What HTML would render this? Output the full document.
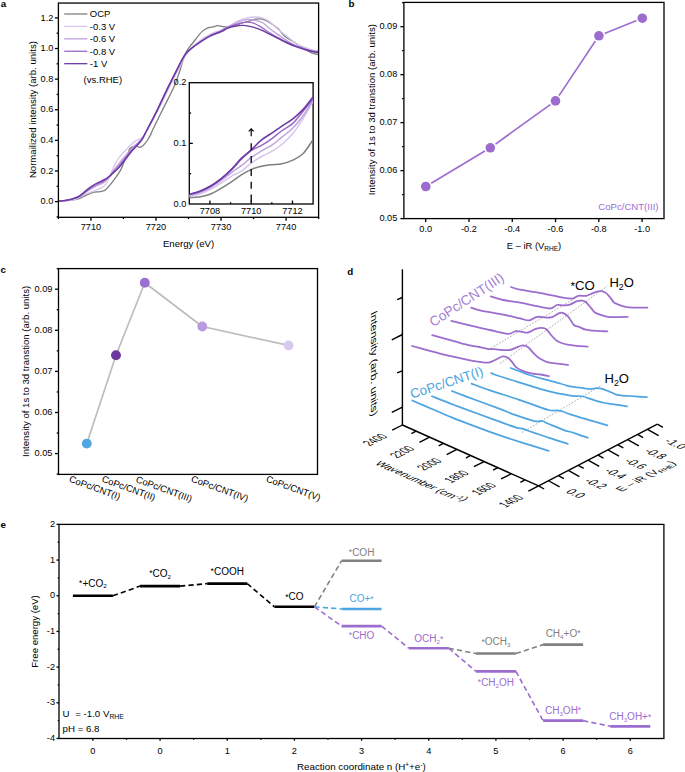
<!DOCTYPE html>
<html><head><meta charset="utf-8"><style>
html,body{margin:0;padding:0;background:#fff;}
svg{display:block;}
text{font-family:"Liberation Sans",sans-serif;}
</style></head><body>
<svg width="685" height="772" viewBox="0 0 685 772">
<defs>
<clipPath id="clipa"><rect x="58.4" y="3.05" width="260.2" height="214.25"/></clipPath>
<clipPath id="clipi"><rect x="189.3" y="82.7" width="123.8" height="121.3"/></clipPath>
</defs>
<rect width="685" height="772" fill="#fff"/>
<text x="0.8" y="7" font-size="9.8" text-anchor="start" fill="#000" font-weight="bold" >a</text>
<g clip-path="url(#clipa)">
<path d="M58.2,201 C59.63,200.93 63.62,200.9 66.8,200.6 C69.98,200.3 74.1,200.08 77.3,199.2 C80.5,198.32 83.38,196.43 86,195.3 C88.62,194.17 90.67,193.02 93,192.4 C95.33,191.78 97.95,192 100,191.6 C102.05,191.2 103.55,191.22 105.3,190 C107.05,188.78 108.75,186.42 110.5,184.3 C112.25,182.18 114.05,179.78 115.8,177.3 C117.55,174.82 119.55,172.17 121,169.4 C122.45,166.63 123.33,163.33 124.5,160.7 C125.67,158.07 127.12,155.62 128,153.6 C128.88,151.58 128.92,149.77 129.8,148.6 C130.68,147.43 132.13,147 133.3,146.6 C134.47,146.2 135.78,146.08 136.8,146.2 C137.82,146.32 138.38,147.37 139.4,147.3 C140.42,147.23 141.58,146.93 142.9,145.8 C144.22,144.67 145.98,142.4 147.3,140.5 C148.62,138.6 149.92,136.15 150.8,134.4 C151.68,132.65 150.65,134.08 152.6,130 C154.55,125.92 158.92,117.13 162.5,109.9 C166.08,102.67 171.18,93.2 174.1,86.6 C177.02,80 178.05,75.93 180,70.3 C181.95,64.67 183.28,57.85 185.8,52.8 C188.32,47.75 192.37,43.57 195.1,40 C197.83,36.43 200.25,33.35 202.2,31.4 C204.15,29.45 204.98,29.07 206.8,28.3 C208.62,27.53 211.28,27.23 213.1,26.8 C214.92,26.37 215.9,25.7 217.7,25.7 C219.5,25.7 222.3,26.6 223.9,26.8 C225.5,27 225.52,27.13 227.3,26.9 C229.08,26.67 232.17,26.02 234.6,25.4 C237.03,24.78 239.47,23.92 241.9,23.2 C244.33,22.48 247.02,21.77 249.2,21.1 C251.38,20.43 252.82,19.52 255,19.2 C257.18,18.88 259.87,18.65 262.3,19.2 C264.73,19.75 266.92,20.85 269.6,22.5 C272.28,24.15 275.97,26.9 278.4,29.1 C280.83,31.3 281.77,33.63 284.2,35.7 C286.63,37.77 290.07,39.57 293,41.5 C295.93,43.43 298.88,45.48 301.8,47.3 C304.72,49.12 307.72,51.18 310.5,52.4 C313.28,53.62 317.17,54.23 318.5,54.6" fill="none" stroke="#7f7f7f" stroke-width="1.3" stroke-linejoin="round" stroke-linecap="round" />
<path d="M58.2,201.2 C59.63,201.13 63.92,201.12 66.8,200.8 C69.68,200.48 72.78,200.18 75.5,199.3 C78.22,198.42 80.08,196.85 83.1,195.5 C86.12,194.15 90.23,192.65 93.6,191.2 C96.97,189.75 100.95,188.57 103.3,186.8 C105.65,185.03 106.38,182.93 107.7,180.6 C109.02,178.27 109.9,175.72 111.2,172.8 C112.5,169.88 113.9,166.02 115.5,163.1 C117.1,160.18 119.05,157.48 120.8,155.3 C122.55,153.12 124.5,151.58 126,150 C127.5,148.42 128.3,147.23 129.8,145.8 C131.3,144.37 133.55,142.43 135,141.4 C136.45,140.37 137.33,140.25 138.5,139.6 C139.67,138.95 140.83,138.6 142,137.5 C143.17,136.4 144.3,134.83 145.5,133 C146.7,131.17 146.92,130.67 149.2,126.5 C151.48,122.33 155.6,115 159.2,108 C162.8,101 167.5,91.08 170.8,84.5 C174.1,77.92 176.37,73.58 179,68.5 C181.63,63.42 184.27,57.67 186.6,54 C188.93,50.33 190.52,48.92 193,46.5 C195.48,44.08 198.67,41.5 201.5,39.5 C204.33,37.5 207.58,35.83 210,34.5 C212.42,33.17 214.33,32.08 216,31.5 C217.67,30.92 217.87,31.88 220,31 C222.13,30.12 225.88,27.85 228.8,26.2 C231.72,24.55 234.58,22.45 237.5,21.1 C240.42,19.75 243.38,18.78 246.3,18.1 C249.22,17.42 252.33,17.05 255,17 C257.67,16.95 259.87,17 262.3,17.8 C264.73,18.6 266.92,19.8 269.6,21.8 C272.28,23.8 275.47,27.37 278.4,29.8 C281.33,32.23 284.28,34.08 287.2,36.4 C290.12,38.72 292.98,41.88 295.9,43.7 C298.82,45.52 301.78,46.2 304.7,47.3 C307.62,48.4 311.1,49.68 313.4,50.3 C315.7,50.92 317.65,50.88 318.5,51" fill="none" stroke="#d6c6ea" stroke-width="1.3" stroke-linejoin="round" stroke-linecap="round" />
<path d="M58.2,201.08 C59.17,201.02 62.03,200.95 64,200.73 C65.97,200.52 67.53,200.44 70,199.8 C72.47,199.16 75.88,198.35 78.8,196.9 C81.72,195.45 85.03,192.69 87.5,191.12 C89.97,189.55 91.77,188.49 93.6,187.48 C95.43,186.47 96.88,185.8 98.5,185.03 C100.12,184.26 101.48,184.26 103.3,182.84 C105.12,181.42 107.7,178.54 109.4,176.5 C111.1,174.47 112.18,172.4 113.5,170.6 C114.82,168.81 115.97,167.44 117.3,165.76 C118.63,164.08 120.03,162.31 121.5,160.53 C122.97,158.76 124.43,157.1 126.1,155.12 C127.77,153.13 129.72,150.55 131.5,148.64 C133.28,146.74 135.05,145.32 136.8,143.67 C138.55,142.02 140.35,140.93 142,138.76 C143.65,136.59 144.25,135.17 146.7,130.66 C149.15,126.15 153.1,118.86 156.7,111.71 C160.3,104.56 165,94.48 168.3,87.79 C171.6,81.09 173.78,76.8 176.5,71.53 C179.22,66.26 182.08,60.08 184.6,56.19 C187.12,52.29 188.88,50.7 191.6,48.18 C194.32,45.65 197.83,43.14 200.9,41.02 C203.97,38.9 206.82,37.08 210,35.46 C213.18,33.84 216.87,32.78 220,31.3 C223.13,29.82 225.88,28.07 228.8,26.6 C231.72,25.13 234.58,23.67 237.5,22.5 C240.42,21.33 243.38,19.97 246.3,19.6 C249.22,19.23 252.33,19.82 255,20.3 C257.67,20.78 259.87,21.15 262.3,22.5 C264.73,23.85 266.92,26.33 269.6,28.4 C272.28,30.47 275.47,32.83 278.4,34.9 C281.33,36.97 284.28,38.97 287.2,40.8 C290.12,42.63 292.98,44.57 295.9,45.9 C298.82,47.23 301.78,47.95 304.7,48.8 C307.62,49.65 311.1,50.52 313.4,51 C315.7,51.48 317.65,51.58 318.5,51.7" fill="none" stroke="#bea2dd" stroke-width="1.3" stroke-linejoin="round" stroke-linecap="round" />
<path d="M58.2,201.04 C59.17,200.97 62.03,200.89 64,200.66 C65.97,200.43 67.53,200.31 70,199.63 C72.47,198.96 75.88,198.2 78.8,196.62 C81.72,195.05 85.03,191.93 87.5,190.17 C89.97,188.42 91.77,187.21 93.6,186.12 C95.43,185.02 96.88,184.37 98.5,183.58 C100.12,182.8 101.48,182.59 103.3,181.39 C105.12,180.19 107.7,178.01 109.4,176.39 C111.1,174.78 112.18,173.15 113.5,171.7 C114.82,170.25 115.97,169.2 117.3,167.71 C118.63,166.21 120.03,164.49 121.5,162.72 C122.97,160.94 124.43,159.12 126.1,157.03 C127.77,154.95 129.72,152.25 131.5,150.22 C133.28,148.18 135.05,146.67 136.8,144.84 C138.55,143.01 140.35,141.6 142,139.22 C143.65,136.84 144.25,135.21 146.7,130.57 C149.15,125.93 153.1,118.61 156.7,111.37 C160.3,104.14 165,93.89 168.3,87.13 C171.6,80.38 173.78,76.11 176.5,70.85 C179.22,65.6 182.08,59.37 184.6,55.59 C187.12,51.81 188.88,50.56 191.6,48.19 C194.32,45.82 197.83,43.46 200.9,41.39 C203.97,39.33 206.82,37.49 210,35.81 C213.18,34.13 216.87,32.79 220,31.3 C223.13,29.81 225.88,28.12 228.8,26.9 C231.72,25.68 234.58,24.78 237.5,24 C240.42,23.22 243.62,22.33 246.3,22.2 C248.98,22.07 251.17,22.42 253.6,23.2 C256.03,23.98 258.23,25.32 260.9,26.9 C263.57,28.48 266.68,30.88 269.6,32.7 C272.52,34.52 275.47,36.22 278.4,37.8 C281.33,39.38 284.28,40.85 287.2,42.2 C290.12,43.55 292.98,44.8 295.9,45.9 C298.82,47 301.78,47.88 304.7,48.8 C307.62,49.72 311.1,50.87 313.4,51.4 C315.7,51.93 317.65,51.9 318.5,52" fill="none" stroke="#9a68c9" stroke-width="1.3" stroke-linejoin="round" stroke-linecap="round" />
<path d="M58.2,201 C59.17,200.93 62.03,200.85 64,200.6 C65.97,200.35 67.53,200.2 70,199.5 C72.47,198.8 75.88,198.08 78.8,196.4 C81.72,194.72 85.03,191.3 87.5,189.4 C89.97,187.5 91.77,186.17 93.6,185 C95.43,183.83 96.88,183.2 98.5,182.4 C100.12,181.6 101.48,181.22 103.3,180.2 C105.12,179.18 107.7,177.57 109.4,176.3 C111.1,175.03 112.18,173.77 113.5,172.6 C114.82,171.43 115.97,170.65 117.3,169.3 C118.63,167.95 120.03,166.28 121.5,164.5 C122.97,162.72 124.43,160.77 126.1,158.6 C127.77,156.43 129.72,153.63 131.5,151.5 C133.28,149.37 135.05,147.78 136.8,145.8 C138.55,143.82 140.35,142.15 142,139.6 C143.65,137.05 144.25,135.25 146.7,130.5 C149.15,125.75 153.1,118.42 156.7,111.1 C160.3,103.78 165,93.4 168.3,86.6 C171.6,79.8 173.78,75.55 176.5,70.3 C179.22,65.05 182.08,58.78 184.6,55.1 C187.12,51.42 188.88,50.43 191.6,48.2 C194.32,45.97 197.83,43.72 200.9,41.7 C203.97,39.68 207.2,37.55 210,36.1 C212.8,34.65 215.63,33.82 217.7,33 C219.77,32.18 220.8,31.97 222.4,31.2 C224,30.43 225.27,29.23 227.3,28.4 C229.33,27.57 231.92,26.7 234.6,26.2 C237.28,25.7 240.48,25.28 243.4,25.4 C246.32,25.52 249.18,26.17 252.1,26.9 C255.02,27.63 257.98,28.58 260.9,29.8 C263.82,31.02 266.68,32.73 269.6,34.2 C272.52,35.67 275.47,37.13 278.4,38.6 C281.33,40.07 284.28,41.67 287.2,43 C290.12,44.33 292.98,45.52 295.9,46.6 C298.82,47.68 301.78,48.65 304.7,49.5 C307.62,50.35 311.1,51.22 313.4,51.7 C315.7,52.18 317.65,52.28 318.5,52.4" fill="none" stroke="#6b3aa5" stroke-width="1.45" stroke-linejoin="round" stroke-linecap="round" />
</g>
<rect x="58.4" y="3.05" width="260.2" height="214.25" fill="none" stroke="#000" stroke-width="1.3"/>
<line x1="58.4" y1="216.91" x2="56.6" y2="216.91" stroke="#000" stroke-width="1.3" />
<line x1="58.4" y1="201.6" x2="54.9" y2="201.6" stroke="#000" stroke-width="1.3" />
<text x="53.3" y="204.2" font-size="9.2" text-anchor="end" fill="#000" >0.0</text>
<line x1="58.4" y1="186.29" x2="56.6" y2="186.29" stroke="#000" stroke-width="1.3" />
<line x1="58.4" y1="170.98" x2="54.9" y2="170.98" stroke="#000" stroke-width="1.3" />
<text x="53.3" y="173.58" font-size="9.2" text-anchor="end" fill="#000" >0.2</text>
<line x1="58.4" y1="155.67" x2="56.6" y2="155.67" stroke="#000" stroke-width="1.3" />
<line x1="58.4" y1="140.37" x2="54.9" y2="140.37" stroke="#000" stroke-width="1.3" />
<text x="53.3" y="142.97" font-size="9.2" text-anchor="end" fill="#000" >0.4</text>
<line x1="58.4" y1="125.06" x2="56.6" y2="125.06" stroke="#000" stroke-width="1.3" />
<line x1="58.4" y1="109.75" x2="54.9" y2="109.75" stroke="#000" stroke-width="1.3" />
<text x="53.3" y="112.35" font-size="9.2" text-anchor="end" fill="#000" >0.6</text>
<line x1="58.4" y1="94.44" x2="56.6" y2="94.44" stroke="#000" stroke-width="1.3" />
<line x1="58.4" y1="79.13" x2="54.9" y2="79.13" stroke="#000" stroke-width="1.3" />
<text x="53.3" y="81.73" font-size="9.2" text-anchor="end" fill="#000" >0.8</text>
<line x1="58.4" y1="63.82" x2="56.6" y2="63.82" stroke="#000" stroke-width="1.3" />
<line x1="58.4" y1="48.52" x2="54.9" y2="48.52" stroke="#000" stroke-width="1.3" />
<text x="53.3" y="51.12" font-size="9.2" text-anchor="end" fill="#000" >1.0</text>
<line x1="58.4" y1="33.21" x2="56.6" y2="33.21" stroke="#000" stroke-width="1.3" />
<line x1="58.4" y1="17.9" x2="54.9" y2="17.9" stroke="#000" stroke-width="1.3" />
<text x="53.3" y="20.5" font-size="9.2" text-anchor="end" fill="#000" >1.2</text>
<line x1="58.4" y1="217.3" x2="58.4" y2="219.1" stroke="#000" stroke-width="1.3" />
<line x1="90.93" y1="217.3" x2="90.93" y2="220.8" stroke="#000" stroke-width="1.3" />
<text x="90.93" y="229.9" font-size="9.2" text-anchor="middle" fill="#000" >7710</text>
<line x1="123.45" y1="217.3" x2="123.45" y2="219.1" stroke="#000" stroke-width="1.3" />
<line x1="155.98" y1="217.3" x2="155.98" y2="220.8" stroke="#000" stroke-width="1.3" />
<text x="155.98" y="229.9" font-size="9.2" text-anchor="middle" fill="#000" >7720</text>
<line x1="188.5" y1="217.3" x2="188.5" y2="219.1" stroke="#000" stroke-width="1.3" />
<line x1="221.03" y1="217.3" x2="221.03" y2="220.8" stroke="#000" stroke-width="1.3" />
<text x="221.03" y="229.9" font-size="9.2" text-anchor="middle" fill="#000" >7730</text>
<line x1="253.55" y1="217.3" x2="253.55" y2="219.1" stroke="#000" stroke-width="1.3" />
<line x1="286.08" y1="217.3" x2="286.08" y2="220.8" stroke="#000" stroke-width="1.3" />
<text x="286.08" y="229.9" font-size="9.2" text-anchor="middle" fill="#000" >7740</text>
<line x1="318.6" y1="217.3" x2="318.6" y2="219.1" stroke="#000" stroke-width="1.3" />
<text x="188.5" y="246.6" font-size="9.6" text-anchor="middle" fill="#000" >Energy (eV)</text>
<text x="0" y="0" font-size="9.6" text-anchor="middle" fill="#000" transform="translate(35.5,109.6) rotate(-90)" >Normailized intensity (arb. units)</text>
<line x1="64.2" y1="14" x2="87.3" y2="14" stroke="#7f7f7f" stroke-width="1.3" />
<text x="89.8" y="17.4" font-size="9.5" text-anchor="start" fill="#000" >OCP</text>
<line x1="64.2" y1="26.42" x2="87.3" y2="26.42" stroke="#d6c6ea" stroke-width="1.3" />
<text x="89.8" y="29.82" font-size="9.5" text-anchor="start" fill="#000" >-0.3 V</text>
<line x1="64.2" y1="38.84" x2="87.3" y2="38.84" stroke="#bea2dd" stroke-width="1.3" />
<text x="89.8" y="42.24" font-size="9.5" text-anchor="start" fill="#000" >-0.6 V</text>
<line x1="64.2" y1="51.26" x2="87.3" y2="51.26" stroke="#9a68c9" stroke-width="1.3" />
<text x="89.8" y="54.66" font-size="9.5" text-anchor="start" fill="#000" >-0.8 V</text>
<line x1="64.2" y1="63.68" x2="87.3" y2="63.68" stroke="#6b3aa5" stroke-width="1.3" />
<text x="89.8" y="67.08" font-size="9.5" text-anchor="start" fill="#000" >-1 V</text>
<text x="83.6" y="83" font-size="9.5" text-anchor="start" fill="#000" >(vs.RHE)</text>
<rect x="189.3" y="82.7" width="123.8" height="121.3" fill="#fff" stroke="#000" stroke-width="1.3"/>
<g clip-path="url(#clipi)">
<path d="M189.47,197.5 C191.07,197.41 195.6,197.5 199.04,196.95 C202.47,196.4 206.39,195.63 210.07,194.19 C213.75,192.75 217.43,190.45 221.11,188.31 C224.78,186.16 228.77,183.56 232.14,181.32 C235.51,179.08 238.12,176.87 241.34,174.88 C244.56,172.89 248.08,170.81 251.45,169.36 C254.83,167.92 258.35,167 261.57,166.24 C264.79,165.47 267.39,165.16 270.77,164.77 C274.14,164.37 278.12,164.61 281.8,163.85 C285.48,163.08 289.31,161.85 292.84,160.17 C296.36,158.48 299.67,157.01 302.95,153.73 C306.23,150.45 310.92,142.7 312.52,140.49" fill="none" stroke="#7f7f7f" stroke-width="1.5" stroke-linejoin="round" stroke-linecap="round" />
<path d="M189.47,196.03 C191.07,195.73 195.6,195.27 199.04,194.19 C202.47,193.12 206.39,191.44 210.07,189.6 C213.75,187.76 217.43,185.46 221.11,183.16 C224.78,180.86 228.77,177.79 232.14,175.8 C235.51,173.81 238.12,173.35 241.34,171.2 C244.56,169.06 248.08,165.38 251.45,162.93 C254.83,160.47 258.04,158.48 261.57,156.49 C265.1,154.5 269.23,152.96 272.61,150.97 C275.98,148.98 278.43,147.45 281.8,144.53 C285.17,141.62 289.31,137.79 292.84,133.5 C296.36,129.21 299.67,124 302.95,118.78 C306.23,113.57 310.92,104.99 312.52,102.23" fill="none" stroke="#d6c6ea" stroke-width="1.5" stroke-linejoin="round" stroke-linecap="round" />
<path d="M189.47,195.11 C191.07,194.75 195.6,194.13 199.04,192.91 C202.47,191.68 206.39,189.84 210.07,187.76 C213.75,185.67 217.43,183.01 221.11,180.4 C224.78,177.79 228.77,174.58 232.14,172.12 C235.51,169.67 238.12,168.14 241.34,165.69 C244.56,163.23 248.08,159.86 251.45,157.41 C254.83,154.96 258.04,153.12 261.57,150.97 C265.1,148.83 269.23,146.83 272.61,144.53 C275.98,142.24 278.43,139.94 281.8,137.18 C285.17,134.42 289.31,131.51 292.84,127.98 C296.36,124.46 299.67,120.62 302.95,116.03 C306.23,111.43 310.92,103 312.52,100.39" fill="none" stroke="#bea2dd" stroke-width="1.5" stroke-linejoin="round" stroke-linecap="round" />
<path d="M189.47,194.56 C191.07,194.13 195.6,193.27 199.04,191.99 C202.47,190.7 206.39,188.98 210.07,186.84 C213.75,184.69 217.43,182.02 221.11,179.11 C224.78,176.2 228.77,172.68 232.14,169.36 C235.51,166.05 238.12,162.41 241.34,159.25 C244.56,156.09 248.08,152.72 251.45,150.42 C254.83,148.12 258.04,147.51 261.57,145.45 C265.1,143.4 269.23,140.55 272.61,138.1 C275.98,135.64 278.43,133.19 281.8,130.74 C285.17,128.29 289.31,126.6 292.84,123.38 C296.36,120.16 299.67,115.41 302.95,111.43 C306.23,107.44 310.92,101.47 312.52,99.47" fill="none" stroke="#9a68c9" stroke-width="1.5" stroke-linejoin="round" stroke-linecap="round" />
<path d="M189.47,194.19 C191.07,193.73 195.6,192.75 199.04,191.44 C202.47,190.12 206.39,188.43 210.07,186.29 C213.75,184.14 217.43,181.53 221.11,178.56 C224.78,175.59 228.77,171.82 232.14,168.44 C235.51,165.07 238.12,161.46 241.34,158.33 C244.56,155.2 248.08,152.75 251.45,149.68 C254.83,146.62 258.04,142.79 261.57,139.94 C265.1,137.09 269.23,134.88 272.61,132.58 C275.98,130.28 278.43,128.44 281.8,126.14 C285.17,123.84 289.31,121.54 292.84,118.78 C296.36,116.03 299.67,113.11 302.95,109.59 C306.23,106.06 310.92,99.63 312.52,97.63" fill="none" stroke="#6b3aa5" stroke-width="1.6" stroke-linejoin="round" stroke-linecap="round" />
</g>
<text x="186.3" y="206.6" font-size="9.2" text-anchor="end" fill="#000" >0.0</text>
<line x1="189.3" y1="173.68" x2="191.1" y2="173.68" stroke="#000" stroke-width="1.3" />
<line x1="189.3" y1="143.35" x2="192.8" y2="143.35" stroke="#000" stroke-width="1.3" />
<text x="186.3" y="145.95" font-size="9.2" text-anchor="end" fill="#000" >0.1</text>
<line x1="189.3" y1="113.02" x2="191.1" y2="113.02" stroke="#000" stroke-width="1.3" />
<text x="186.3" y="85.3" font-size="9.2" text-anchor="end" fill="#000" >0.2</text>
<line x1="209.93" y1="204" x2="209.93" y2="200.5" stroke="#000" stroke-width="1.3" />
<text x="209.93" y="214.3" font-size="9.2" text-anchor="middle" fill="#000" >7708</text>
<line x1="230.57" y1="204" x2="230.57" y2="202.2" stroke="#000" stroke-width="1.3" />
<line x1="251.2" y1="204" x2="251.2" y2="200.5" stroke="#000" stroke-width="1.3" />
<text x="251.2" y="214.3" font-size="9.2" text-anchor="middle" fill="#000" >7710</text>
<line x1="271.83" y1="204" x2="271.83" y2="202.2" stroke="#000" stroke-width="1.3" />
<line x1="292.47" y1="204" x2="292.47" y2="200.5" stroke="#000" stroke-width="1.3" />
<text x="292.47" y="214.3" font-size="9.2" text-anchor="middle" fill="#000" >7712</text>
<line x1="251.2" y1="143.3" x2="251.2" y2="203.5" stroke="#000" stroke-width="1.3" stroke-dasharray="7,5.8"/>
<path d="M248.8,131.4 L251.2,128.8 L253.6,131.4" fill="none" stroke="#000" stroke-width="1.2"/>
<line x1="251.2" y1="129.2" x2="251.2" y2="136.3" stroke="#000" stroke-width="1.2" />
<text x="348.6" y="6.8" font-size="9.8" text-anchor="start" fill="#000" font-weight="bold" >b</text>
<rect x="403.9" y="2.4" width="260.1" height="216.2" fill="none" stroke="#000" stroke-width="1.3"/>
<line x1="403.9" y1="218.6" x2="400.4" y2="218.6" stroke="#000" stroke-width="1.3" />
<text x="397.3" y="221.1" font-size="9.2" text-anchor="end" fill="#000" >0.05</text>
<line x1="403.9" y1="194.61" x2="402.1" y2="194.61" stroke="#000" stroke-width="1.3" />
<line x1="403.9" y1="170.62" x2="400.4" y2="170.62" stroke="#000" stroke-width="1.3" />
<text x="397.3" y="173.12" font-size="9.2" text-anchor="end" fill="#000" >0.06</text>
<line x1="403.9" y1="146.63" x2="402.1" y2="146.63" stroke="#000" stroke-width="1.3" />
<line x1="403.9" y1="122.64" x2="400.4" y2="122.64" stroke="#000" stroke-width="1.3" />
<text x="397.3" y="125.14" font-size="9.2" text-anchor="end" fill="#000" >0.07</text>
<line x1="403.9" y1="98.65" x2="402.1" y2="98.65" stroke="#000" stroke-width="1.3" />
<line x1="403.9" y1="74.66" x2="400.4" y2="74.66" stroke="#000" stroke-width="1.3" />
<text x="397.3" y="77.16" font-size="9.2" text-anchor="end" fill="#000" >0.08</text>
<line x1="403.9" y1="50.67" x2="402.1" y2="50.67" stroke="#000" stroke-width="1.3" />
<line x1="403.9" y1="26.68" x2="400.4" y2="26.68" stroke="#000" stroke-width="1.3" />
<text x="397.3" y="29.18" font-size="9.2" text-anchor="end" fill="#000" >0.09</text>
<line x1="403.9" y1="2.69" x2="402.1" y2="2.69" stroke="#000" stroke-width="1.3" />
<line x1="425.7" y1="218.6" x2="425.7" y2="222.1" stroke="#000" stroke-width="1.3" />
<text x="425.7" y="232.2" font-size="9.2" text-anchor="middle" fill="#000" >0.0</text>
<line x1="468.98" y1="218.6" x2="468.98" y2="222.1" stroke="#000" stroke-width="1.3" />
<text x="468.98" y="232.2" font-size="9.2" text-anchor="middle" fill="#000" >-0.2</text>
<line x1="512.26" y1="218.6" x2="512.26" y2="222.1" stroke="#000" stroke-width="1.3" />
<text x="512.26" y="232.2" font-size="9.2" text-anchor="middle" fill="#000" >-0.4</text>
<line x1="555.54" y1="218.6" x2="555.54" y2="222.1" stroke="#000" stroke-width="1.3" />
<text x="555.54" y="232.2" font-size="9.2" text-anchor="middle" fill="#000" >-0.6</text>
<line x1="598.82" y1="218.6" x2="598.82" y2="222.1" stroke="#000" stroke-width="1.3" />
<text x="598.82" y="232.2" font-size="9.2" text-anchor="middle" fill="#000" >-0.8</text>
<line x1="642.1" y1="218.6" x2="642.1" y2="222.1" stroke="#000" stroke-width="1.3" />
<text x="642.1" y="232.2" font-size="9.2" text-anchor="middle" fill="#000" >-1.0</text>
<path d="M425.8,186.5 L490.3,147.8 L555.5,100.9 L598.9,35.8 L642.3,18.2" fill="none" stroke="#9c6dcf" stroke-width="1.65" stroke-linejoin="round" stroke-linecap="round" />
<circle cx="425.8" cy="186.5" r="6.4" fill="#fff"/>
<circle cx="425.8" cy="186.5" r="4.8" fill="#9c6dcf"/>
<circle cx="490.3" cy="147.8" r="6.4" fill="#fff"/>
<circle cx="490.3" cy="147.8" r="4.8" fill="#9c6dcf"/>
<circle cx="555.5" cy="100.9" r="6.4" fill="#fff"/>
<circle cx="555.5" cy="100.9" r="4.8" fill="#9c6dcf"/>
<circle cx="598.9" cy="35.8" r="6.4" fill="#fff"/>
<circle cx="598.9" cy="35.8" r="4.8" fill="#9c6dcf"/>
<circle cx="642.3" cy="18.2" r="6.4" fill="#fff"/>
<circle cx="642.3" cy="18.2" r="4.8" fill="#9c6dcf"/>
<text x="658.5" y="209.9" font-size="9.6" text-anchor="end" fill="#9c6dcf" >CoPc/CNT(III)</text>
<text x="534" y="249" font-size="9.4" text-anchor="middle" fill="#000" >E – iR (V<tspan font-size="6.5" dy="1.8">RHE</tspan><tspan dy="-1.8">)</tspan></text>
<text x="0" y="0" font-size="9.6" text-anchor="middle" fill="#000" transform="translate(374.5,109.7) rotate(-90)" >Intensity of 1s to 3d transtion (arb. units)</text>
<text x="0.5" y="272.5" font-size="9.8" text-anchor="start" fill="#000" font-weight="bold" >c</text>
<rect x="58.5" y="268.6" width="259" height="205.8" fill="none" stroke="#000" stroke-width="1.3"/>
<line x1="58.5" y1="474.15" x2="56.7" y2="474.15" stroke="#000" stroke-width="1.3" />
<line x1="58.5" y1="453.6" x2="55" y2="453.6" stroke="#000" stroke-width="1.3" />
<text x="52.4" y="456.1" font-size="9.2" text-anchor="end" fill="#000" >0.05</text>
<line x1="58.5" y1="433.05" x2="56.7" y2="433.05" stroke="#000" stroke-width="1.3" />
<line x1="58.5" y1="412.5" x2="55" y2="412.5" stroke="#000" stroke-width="1.3" />
<text x="52.4" y="415" font-size="9.2" text-anchor="end" fill="#000" >0.06</text>
<line x1="58.5" y1="391.95" x2="56.7" y2="391.95" stroke="#000" stroke-width="1.3" />
<line x1="58.5" y1="371.4" x2="55" y2="371.4" stroke="#000" stroke-width="1.3" />
<text x="52.4" y="373.9" font-size="9.2" text-anchor="end" fill="#000" >0.07</text>
<line x1="58.5" y1="350.85" x2="56.7" y2="350.85" stroke="#000" stroke-width="1.3" />
<line x1="58.5" y1="330.3" x2="55" y2="330.3" stroke="#000" stroke-width="1.3" />
<text x="52.4" y="332.8" font-size="9.2" text-anchor="end" fill="#000" >0.08</text>
<line x1="58.5" y1="309.75" x2="56.7" y2="309.75" stroke="#000" stroke-width="1.3" />
<line x1="58.5" y1="289.2" x2="55" y2="289.2" stroke="#000" stroke-width="1.3" />
<text x="52.4" y="291.7" font-size="9.2" text-anchor="end" fill="#000" >0.09</text>
<line x1="58.5" y1="268.65" x2="56.7" y2="268.65" stroke="#000" stroke-width="1.3" />
<path d="M86.8,443.6 L116,355.3 L144.8,282.7 L202.3,326.5 L288.6,345.4" fill="none" stroke="#bdbdbd" stroke-width="1.7" stroke-linejoin="round" stroke-linecap="round" />
<circle cx="86.8" cy="443.6" r="4.95" fill="#52a7e2"/>
<circle cx="116" cy="355.3" r="4.95" fill="#6a3a9e"/>
<circle cx="144.8" cy="282.7" r="4.95" fill="#9d6fd2"/>
<circle cx="202.3" cy="326.5" r="4.95" fill="#bb9be0"/>
<circle cx="288.6" cy="345.4" r="4.95" fill="#d9c9ee"/>
<text x="0" y="0" font-size="9.4" text-anchor="start" fill="#000" transform="translate(68.5,481.6) rotate(20)" >CoPc/CNT(I)</text>
<text x="0" y="0" font-size="9.4" text-anchor="start" fill="#000" transform="translate(101.2,481.6) rotate(20)" >CoPc/CNT(II)</text>
<text x="0" y="0" font-size="9.4" text-anchor="start" fill="#000" transform="translate(135.3,482) rotate(20)" >CoPc/CNT(III)</text>
<text x="0" y="0" font-size="9.4" text-anchor="start" fill="#000" transform="translate(190.6,481.4) rotate(20)" >CoPc/CNT(IV)</text>
<text x="0" y="0" font-size="9.4" text-anchor="start" fill="#000" transform="translate(265.4,481.4) rotate(20)" >CoPc/CNT(V)</text>
<text x="0" y="0" font-size="9.6" text-anchor="middle" fill="#000" transform="translate(28.7,371.4) rotate(-90)" >Intensity of 1s to 3d transtion (arb. units)</text>
<text x="0.5" y="527.5" font-size="9.8" text-anchor="start" fill="#000" font-weight="bold" >e</text>
<rect x="59" y="524.4" width="604.9" height="214.1" fill="none" stroke="#000" stroke-width="1.3"/>
<line x1="59" y1="738.47" x2="56.5" y2="738.47" stroke="#000" stroke-width="1.3" />
<text x="55" y="741.07" font-size="9.2" text-anchor="end" fill="#000" >-4</text>
<line x1="59" y1="720.63" x2="57.7" y2="720.63" stroke="#000" stroke-width="1.3" />
<line x1="59" y1="702.79" x2="56.5" y2="702.79" stroke="#000" stroke-width="1.3" />
<text x="55" y="705.39" font-size="9.2" text-anchor="end" fill="#000" >-3</text>
<line x1="59" y1="684.95" x2="57.7" y2="684.95" stroke="#000" stroke-width="1.3" />
<line x1="59" y1="667.11" x2="56.5" y2="667.11" stroke="#000" stroke-width="1.3" />
<text x="55" y="669.71" font-size="9.2" text-anchor="end" fill="#000" >-2</text>
<line x1="59" y1="649.27" x2="57.7" y2="649.27" stroke="#000" stroke-width="1.3" />
<line x1="59" y1="631.43" x2="56.5" y2="631.43" stroke="#000" stroke-width="1.3" />
<text x="55" y="634.03" font-size="9.2" text-anchor="end" fill="#000" >-1</text>
<line x1="59" y1="613.59" x2="57.7" y2="613.59" stroke="#000" stroke-width="1.3" />
<line x1="59" y1="595.75" x2="56.5" y2="595.75" stroke="#000" stroke-width="1.3" />
<text x="55" y="598.35" font-size="9.2" text-anchor="end" fill="#000" >0</text>
<line x1="59" y1="577.91" x2="57.7" y2="577.91" stroke="#000" stroke-width="1.3" />
<line x1="59" y1="560.07" x2="56.5" y2="560.07" stroke="#000" stroke-width="1.3" />
<text x="55" y="562.67" font-size="9.2" text-anchor="end" fill="#000" >1</text>
<line x1="59" y1="542.23" x2="57.7" y2="542.23" stroke="#000" stroke-width="1.3" />
<line x1="59" y1="524.39" x2="56.5" y2="524.39" stroke="#000" stroke-width="1.3" />
<text x="55" y="526.99" font-size="9.2" text-anchor="end" fill="#000" >2</text>
<line x1="92.9" y1="738.5" x2="92.9" y2="740.7" stroke="#000" stroke-width="1.3" />
<text x="92.9" y="753.9" font-size="9.2" text-anchor="middle" fill="#000" >0</text>
<line x1="126.49" y1="738.5" x2="126.49" y2="739.8" stroke="#000" stroke-width="1.3" />
<line x1="160.07" y1="738.5" x2="160.07" y2="740.7" stroke="#000" stroke-width="1.3" />
<text x="160.07" y="753.9" font-size="9.2" text-anchor="middle" fill="#000" >0</text>
<line x1="193.66" y1="738.5" x2="193.66" y2="739.8" stroke="#000" stroke-width="1.3" />
<line x1="227.24" y1="738.5" x2="227.24" y2="740.7" stroke="#000" stroke-width="1.3" />
<text x="227.24" y="753.9" font-size="9.2" text-anchor="middle" fill="#000" >1</text>
<line x1="260.82" y1="738.5" x2="260.82" y2="739.8" stroke="#000" stroke-width="1.3" />
<line x1="294.41" y1="738.5" x2="294.41" y2="740.7" stroke="#000" stroke-width="1.3" />
<text x="294.41" y="753.9" font-size="9.2" text-anchor="middle" fill="#000" >2</text>
<line x1="327.99" y1="738.5" x2="327.99" y2="739.8" stroke="#000" stroke-width="1.3" />
<line x1="361.58" y1="738.5" x2="361.58" y2="740.7" stroke="#000" stroke-width="1.3" />
<text x="361.58" y="753.9" font-size="9.2" text-anchor="middle" fill="#000" >3</text>
<line x1="395.17" y1="738.5" x2="395.17" y2="739.8" stroke="#000" stroke-width="1.3" />
<line x1="428.75" y1="738.5" x2="428.75" y2="740.7" stroke="#000" stroke-width="1.3" />
<text x="428.75" y="753.9" font-size="9.2" text-anchor="middle" fill="#000" >4</text>
<line x1="462.33" y1="738.5" x2="462.33" y2="739.8" stroke="#000" stroke-width="1.3" />
<line x1="495.92" y1="738.5" x2="495.92" y2="740.7" stroke="#000" stroke-width="1.3" />
<text x="495.92" y="753.9" font-size="9.2" text-anchor="middle" fill="#000" >5</text>
<line x1="529.5" y1="738.5" x2="529.5" y2="739.8" stroke="#000" stroke-width="1.3" />
<line x1="563.09" y1="738.5" x2="563.09" y2="740.7" stroke="#000" stroke-width="1.3" />
<text x="563.09" y="753.9" font-size="9.2" text-anchor="middle" fill="#000" >6</text>
<line x1="596.68" y1="738.5" x2="596.68" y2="739.8" stroke="#000" stroke-width="1.3" />
<line x1="630.26" y1="738.5" x2="630.26" y2="740.7" stroke="#000" stroke-width="1.3" />
<text x="630.26" y="753.9" font-size="9.2" text-anchor="middle" fill="#000" >6</text>
<text x="361.3" y="770.4" font-size="9.8" text-anchor="middle" fill="#000" >Reaction coordinate n (H<tspan font-size="6.4" dy="-3.4">+</tspan><tspan dy="3.4">+e</tspan><tspan font-size="6.4" dy="-3.4">-</tspan><tspan dy="3.4">)</tspan></text>
<text x="0" y="0" font-size="9.6" text-anchor="middle" fill="#000" transform="translate(37.6,631.5) rotate(-90)" >Free energy (eV)</text>
<text x="62.6" y="717.3" font-size="9.7" text-anchor="start" fill="#000" >U<tspan dx="5.6">= -1.0 V</tspan><tspan font-size="6.8" dy="1.8">RHE</tspan></text>
<text x="62.6" y="731.6" font-size="9.7" text-anchor="start" fill="#000" >pH = 6.8</text>
<line x1="72.9" y1="595.75" x2="112.9" y2="595.75" stroke="#000" stroke-width="2.6" />
<line x1="140.07" y1="586.12" x2="180.07" y2="586.12" stroke="#000" stroke-width="2.6" />
<line x1="207.24" y1="583.62" x2="247.24" y2="583.62" stroke="#000" stroke-width="2.6" />
<line x1="274.41" y1="606.81" x2="314.41" y2="606.81" stroke="#000" stroke-width="2.6" />
<line x1="112.9" y1="595.75" x2="140.07" y2="586.12" stroke="#000" stroke-width="1.6" stroke-dasharray="5.2,3.2"/>
<line x1="180.07" y1="586.12" x2="207.24" y2="583.62" stroke="#000" stroke-width="1.6" stroke-dasharray="5.2,3.2"/>
<line x1="247.24" y1="583.62" x2="274.41" y2="606.81" stroke="#000" stroke-width="1.6" stroke-dasharray="5.2,3.2"/>
<line x1="341.58" y1="560.78" x2="381.58" y2="560.78" stroke="#808080" stroke-width="2.6" />
<line x1="341.58" y1="608.95" x2="381.58" y2="608.95" stroke="#4da5e2" stroke-width="2.6" />
<line x1="341.58" y1="626.08" x2="381.58" y2="626.08" stroke="#9c6dcf" stroke-width="2.6" />
<line x1="314.41" y1="606.81" x2="341.58" y2="560.78" stroke="#808080" stroke-width="1.6" stroke-dasharray="5.2,3.2"/>
<line x1="314.41" y1="606.81" x2="341.58" y2="608.95" stroke="#4da5e2" stroke-width="1.6" stroke-dasharray="5.2,3.2"/>
<line x1="314.41" y1="606.81" x2="341.58" y2="626.08" stroke="#9c6dcf" stroke-width="1.6" stroke-dasharray="5.2,3.2"/>
<line x1="408.75" y1="648.2" x2="448.75" y2="648.2" stroke="#9c6dcf" stroke-width="2.6" />
<line x1="381.58" y1="626.08" x2="408.75" y2="648.2" stroke="#9c6dcf" stroke-width="1.6" stroke-dasharray="5.2,3.2"/>
<line x1="475.92" y1="653.55" x2="515.92" y2="653.55" stroke="#808080" stroke-width="2.6" />
<line x1="448.75" y1="648.2" x2="475.92" y2="653.55" stroke="#808080" stroke-width="1.6" stroke-dasharray="5.2,3.2"/>
<line x1="543.09" y1="644.63" x2="583.09" y2="644.63" stroke="#808080" stroke-width="2.6" />
<line x1="515.92" y1="653.55" x2="543.09" y2="644.63" stroke="#808080" stroke-width="1.6" stroke-dasharray="5.2,3.2"/>
<line x1="475.92" y1="671.39" x2="515.92" y2="671.39" stroke="#9c6dcf" stroke-width="2.6" />
<line x1="448.75" y1="648.2" x2="475.92" y2="671.39" stroke="#9c6dcf" stroke-width="1.6" stroke-dasharray="5.2,3.2"/>
<line x1="543.09" y1="720.63" x2="583.09" y2="720.63" stroke="#9c6dcf" stroke-width="2.6" />
<line x1="515.92" y1="671.39" x2="543.09" y2="720.63" stroke="#9c6dcf" stroke-width="1.6" stroke-dasharray="5.2,3.2"/>
<line x1="610.26" y1="726.34" x2="650.26" y2="726.34" stroke="#9c6dcf" stroke-width="2.6" />
<line x1="583.09" y1="720.63" x2="610.26" y2="726.34" stroke="#9c6dcf" stroke-width="1.6" stroke-dasharray="5.2,3.2"/>
<text x="92.9" y="586.5" font-size="10" text-anchor="middle" fill="#000" ><tspan font-size="8.6" dy="-0.6">*</tspan><tspan dy="0.6">+CO</tspan><tspan font-size="6.2" dy="1.8">2</tspan></text>
<text x="160.07" y="577" font-size="10" text-anchor="middle" fill="#000" ><tspan font-size="8.6" dy="-0.6">*</tspan><tspan dy="0.6">CO</tspan><tspan font-size="6.2" dy="1.8">2</tspan></text>
<text x="227.24" y="575" font-size="10" text-anchor="middle" fill="#000" ><tspan font-size="8.6" dy="-0.6">*</tspan><tspan dy="0.6">COOH</tspan></text>
<text x="294.41" y="600.3" font-size="10" text-anchor="middle" fill="#000" ><tspan font-size="8.6" dy="-0.6">*</tspan><tspan dy="0.6">CO</tspan></text>
<text x="361.58" y="555.8" font-size="10" text-anchor="middle" fill="#808080" ><tspan font-size="8.6" dy="-0.6">*</tspan><tspan dy="0.6">COH</tspan></text>
<text x="361.58" y="602.4" font-size="10" text-anchor="middle" fill="#4da5e2" >CO+<tspan font-size="8.6" dy="-0.6">*</tspan></text>
<text x="361.58" y="638.8" font-size="10" text-anchor="middle" fill="#9c6dcf" ><tspan font-size="8.6" dy="-0.6">*</tspan><tspan dy="0.6">CHO</tspan></text>
<text x="428.75" y="642.4" font-size="10" text-anchor="middle" fill="#9c6dcf" >OCH<tspan font-size="6.2" dy="1.8">2</tspan><tspan font-size="8.6" dy="-2.4">*</tspan></text>
<text x="495.92" y="645.3" font-size="10" text-anchor="middle" fill="#808080" ><tspan font-size="8.6" dy="-0.6">*</tspan><tspan dy="0.6">OCH</tspan><tspan font-size="6.2" dy="1.8">3</tspan></text>
<text x="563.09" y="637" font-size="10" text-anchor="middle" fill="#808080" >CH<tspan font-size="6.2" dy="1.8">4</tspan><tspan dy="-1.8">+O</tspan><tspan font-size="8.6" dy="-0.6">*</tspan></text>
<text x="495.92" y="686" font-size="10" text-anchor="middle" fill="#9c6dcf" ><tspan font-size="8.6" dy="-0.6">*</tspan><tspan dy="0.6">CH</tspan><tspan font-size="6.2" dy="1.8">2</tspan><tspan dy="-1.8">OH</tspan></text>
<text x="563.09" y="714" font-size="10" text-anchor="middle" fill="#9c6dcf" >CH<tspan font-size="6.2" dy="1.8">3</tspan><tspan dy="-1.8">OH</tspan><tspan font-size="8.6" dy="-0.6">*</tspan></text>
<text x="630.26" y="720.2" font-size="10" text-anchor="middle" fill="#9c6dcf" >CH<tspan font-size="6.2" dy="1.8">3</tspan><tspan dy="-1.8">OH+</tspan><tspan font-size="8.6" dy="-0.6">*</tspan></text>
<text x="347.3" y="275.3" font-size="9.8" text-anchor="start" fill="#000" font-weight="bold" >d</text>
<line x1="402.4" y1="269.3" x2="402.4" y2="425" stroke="#000" stroke-width="1.4" />
<line x1="402.4" y1="297.5" x2="397.1" y2="299.6" stroke="#000" stroke-width="1.4" />
<line x1="402.4" y1="334.5" x2="391.8" y2="339.8" stroke="#000" stroke-width="1.4" />
<line x1="402.4" y1="370.8" x2="397.1" y2="372.9" stroke="#000" stroke-width="1.4" />
<line x1="402.4" y1="407.1" x2="391.8" y2="412.4" stroke="#000" stroke-width="1.4" />
<line x1="402.4" y1="425" x2="538.6" y2="485.9" stroke="#000" stroke-width="1.4" />
<line x1="402.4" y1="425" x2="392.2" y2="430.2" stroke="#000" stroke-width="1.4" />
<line x1="416.02" y1="431.09" x2="411.42" y2="433.69" stroke="#000" stroke-width="1.4" />
<line x1="429.64" y1="437.18" x2="419.44" y2="442.38" stroke="#000" stroke-width="1.4" />
<line x1="443.26" y1="443.27" x2="438.66" y2="445.87" stroke="#000" stroke-width="1.4" />
<line x1="456.88" y1="449.36" x2="446.68" y2="454.56" stroke="#000" stroke-width="1.4" />
<line x1="470.5" y1="455.45" x2="465.9" y2="458.05" stroke="#000" stroke-width="1.4" />
<line x1="484.12" y1="461.54" x2="473.92" y2="466.74" stroke="#000" stroke-width="1.4" />
<line x1="497.74" y1="467.63" x2="493.14" y2="470.23" stroke="#000" stroke-width="1.4" />
<line x1="511.36" y1="473.72" x2="501.16" y2="478.92" stroke="#000" stroke-width="1.4" />
<line x1="524.98" y1="479.81" x2="520.38" y2="482.41" stroke="#000" stroke-width="1.4" />
<line x1="538.6" y1="485.9" x2="528.4" y2="491.1" stroke="#000" stroke-width="1.4" />
<line x1="538.6" y1="485.9" x2="657.4" y2="424.2" stroke="#000" stroke-width="1.4" />
<line x1="538.6" y1="485.9" x2="544.1" y2="489" stroke="#000" stroke-width="1.4" />
<line x1="548.5" y1="480.76" x2="559.6" y2="486.96" stroke="#000" stroke-width="1.4" />
<line x1="558.4" y1="475.62" x2="563.9" y2="478.72" stroke="#000" stroke-width="1.4" />
<line x1="568.3" y1="470.47" x2="579.4" y2="476.67" stroke="#000" stroke-width="1.4" />
<line x1="578.2" y1="465.33" x2="583.7" y2="468.43" stroke="#000" stroke-width="1.4" />
<line x1="588.1" y1="460.19" x2="599.2" y2="466.39" stroke="#000" stroke-width="1.4" />
<line x1="598" y1="455.05" x2="603.5" y2="458.15" stroke="#000" stroke-width="1.4" />
<line x1="607.9" y1="449.91" x2="619" y2="456.11" stroke="#000" stroke-width="1.4" />
<line x1="617.8" y1="444.77" x2="623.3" y2="447.87" stroke="#000" stroke-width="1.4" />
<line x1="627.7" y1="439.62" x2="638.8" y2="445.82" stroke="#000" stroke-width="1.4" />
<line x1="637.6" y1="434.48" x2="643.1" y2="437.58" stroke="#000" stroke-width="1.4" />
<line x1="647.5" y1="429.34" x2="658.6" y2="435.54" stroke="#000" stroke-width="1.4" />
<line x1="657.4" y1="424.2" x2="662.9" y2="427.3" stroke="#000" stroke-width="1.4" />
<text x="0" y="0" font-size="9.4" text-anchor="middle" fill="#000" transform="matrix(0.8900,-0.4570,1.2768,0.5740,379.00,441.53)" >2400</text>
<text x="0" y="0" font-size="9.4" text-anchor="middle" fill="#000" transform="matrix(0.8900,-0.4570,1.2768,0.5740,406.20,453.81)" >2200</text>
<text x="0" y="0" font-size="9.4" text-anchor="middle" fill="#000" transform="matrix(0.8900,-0.4570,1.2768,0.5740,433.40,466.09)" >2000</text>
<text x="0" y="0" font-size="9.4" text-anchor="middle" fill="#000" transform="matrix(0.8900,-0.4570,1.2768,0.5740,460.60,478.37)" >1800</text>
<text x="0" y="0" font-size="9.4" text-anchor="middle" fill="#000" transform="matrix(0.8900,-0.4570,1.2768,0.5740,487.80,490.65)" >1600</text>
<text x="0" y="0" font-size="9.4" text-anchor="middle" fill="#000" transform="matrix(0.8900,-0.4570,1.2768,0.5740,515.00,502.93)" >1400</text>
<text x="0" y="0" font-size="9.4" text-anchor="middle" fill="#000" transform="matrix(1.0762,0.4838,-1.1570,0.5941,572.11,495.30)" >0.0</text>
<text x="0" y="0" font-size="9.4" text-anchor="middle" fill="#000" transform="matrix(1.0762,0.4838,-1.1570,0.5941,592.07,485.38)" >-0.2</text>
<text x="0" y="0" font-size="9.4" text-anchor="middle" fill="#000" transform="matrix(1.0762,0.4838,-1.1570,0.5941,612.03,475.46)" >-0.4</text>
<text x="0" y="0" font-size="9.4" text-anchor="middle" fill="#000" transform="matrix(1.0762,0.4838,-1.1570,0.5941,631.99,465.54)" >-0.6</text>
<text x="0" y="0" font-size="9.4" text-anchor="middle" fill="#000" transform="matrix(1.0762,0.4838,-1.1570,0.5941,651.95,455.62)" >-0.8</text>
<text x="0" y="0" font-size="9.4" text-anchor="middle" fill="#000" transform="matrix(1.0762,0.4838,-1.1570,0.5941,671.91,445.70)" >-1.0</text>
<text x="0" y="0" font-size="9.3" text-anchor="start" fill="#000" transform="matrix(1.0579,0.4756,-1.0235,0.5255,374.20,463.90)" >Wavenumber (cm<tspan font-size="6.5" dy="-3">-1</tspan><tspan dy="0.6">)</tspan></text>
<text x="0" y="0" font-size="9.6" text-anchor="start" fill="#000" transform="matrix(0.9968,-0.5118,1.0306,0.4633,621.60,492.00)" >E – iR (V<tspan font-size="6.5" dy="1.8">RHE</tspan><tspan dy="-1.8">)</tspan></text>
<text x="0" y="0" font-size="9.6" text-anchor="start" fill="#000" transform="matrix(0,1.24,-0.953,0.489,371,312.8)" >Intensity (arb. units)</text>
<line x1="488.3" y1="349.8" x2="575.5" y2="298" stroke="#8a8a8a" stroke-width="0.75" stroke-dasharray="1.6,1.6"/>
<line x1="500.2" y1="363.5" x2="607.2" y2="286.2" stroke="#8a8a8a" stroke-width="0.75" stroke-dasharray="1.6,1.6"/>
<line x1="522" y1="432.5" x2="602.2" y2="385" stroke="#8a8a8a" stroke-width="0.75" stroke-dasharray="1.6,1.6"/>
<path d="M511,287 C512.5,287.45 514.42,288.57 520,289.7 C525.58,290.83 537.83,292.57 544.5,293.8 C551.17,295.03 556.1,296.33 560,297.1 C563.9,297.87 565.72,298.18 567.9,298.4 C570.08,298.62 571.35,298.83 573.1,298.4 C574.85,297.97 576.2,296.23 578.4,295.8 C580.6,295.37 583.9,296.25 586.3,295.8 C588.7,295.35 590.62,293.87 592.8,293.1 C594.98,292.33 597.87,291.52 599.4,291.2 C600.93,290.88 600.9,290.88 602,291.2 C603.1,291.52 604.68,292.12 606,293.1 C607.32,294.08 608.58,295.57 609.9,297.1 C611.22,298.63 612.58,301.1 613.9,302.3 C615.22,303.5 615.83,303.53 617.8,304.3 C619.77,305.07 623.07,306.35 625.7,306.9 C628.33,307.45 629.98,307.48 633.6,307.6 C637.22,307.72 645.1,307.6 647.4,307.6" fill="none" stroke="#9c6dcf" stroke-width="1.8" stroke-linejoin="round" stroke-linecap="round" />
<path d="M490.8,296.3 C492.9,296.92 498.53,298.95 503.4,300 C508.27,301.05 515.05,301.72 520,302.6 C524.95,303.48 528.07,304.32 533.1,305.3 C538.13,306.28 546.25,308.55 550.2,308.5 C554.15,308.45 554.6,305.53 556.8,305 C559,304.47 561.22,305.37 563.4,305.3 C565.58,305.23 567.72,305.27 569.9,304.6 C572.08,303.93 574.52,301.95 576.5,301.3 C578.48,300.65 580.27,300.58 581.8,300.7 C583.33,300.82 584.17,300.8 585.7,302 C587.23,303.2 589.47,306.15 591,307.9 C592.53,309.65 593.15,311.3 594.9,312.5 C596.65,313.7 598.98,314.33 601.5,315.1 C604.02,315.87 605.63,316.82 610,317.1 C614.37,317.38 624.75,316.85 627.7,316.8" fill="none" stroke="#9c6dcf" stroke-width="1.8" stroke-linejoin="round" stroke-linecap="round" />
<path d="M471.2,307.7 C472.67,308.15 474.63,309.23 480,310.4 C485.37,311.57 496.73,313.37 503.4,314.7 C510.07,316.03 515.7,317.45 520,318.4 C524.3,319.35 526.35,320.67 529.2,320.4 C532.05,320.13 534.25,317.25 537.1,316.8 C539.95,316.35 543.68,317.7 546.3,317.7 C548.92,317.7 550.62,317.57 552.8,316.8 C554.98,316.03 557.63,313.72 559.4,313.1 C561.17,312.48 561.87,312.43 563.4,313.1 C564.93,313.77 566.85,315.12 568.6,317.1 C570.35,319.08 572.15,323.37 573.9,325 C575.65,326.63 577.13,326.13 579.1,326.9 C581.07,327.67 582.85,328.93 585.7,329.6 C588.55,330.27 592.58,330.62 596.2,330.9 C599.82,331.18 605.53,331.23 607.4,331.3" fill="none" stroke="#9c6dcf" stroke-width="1.8" stroke-linejoin="round" stroke-linecap="round" />
<path d="M451.4,320.8 C455.35,321.77 468.67,325.07 475.1,326.6 C481.53,328.13 484.52,328.78 490,330 C495.48,331.22 503.83,333.68 508,333.9 C512.17,334.12 512.83,331.67 515,331.3 C517.17,330.93 518.85,331.48 521,331.7 C523.15,331.92 525.43,333.07 527.9,332.6 C530.37,332.13 533.5,329.68 535.8,328.9 C538.1,328.12 539.95,327.85 541.7,327.9 C543.45,327.95 544.67,327.93 546.3,329.2 C547.93,330.47 549.75,333.58 551.5,335.5 C553.25,337.42 554.6,339.28 556.8,340.7 C559,342.12 562.07,343.23 564.7,344 C567.33,344.77 568.77,344.87 572.6,345.3 C576.43,345.73 585.18,346.38 587.7,346.6" fill="none" stroke="#9c6dcf" stroke-width="1.8" stroke-linejoin="round" stroke-linecap="round" />
<path d="M432.2,335.2 C436.43,336.37 451.3,340.5 457.6,342.2 C463.9,343.9 466.4,344.6 470,345.4 C473.6,346.2 476.13,346.38 479.2,347 C482.27,347.62 485.85,348.75 488.4,349.1 C490.95,349.45 492.2,348.95 494.5,349.1 C496.8,349.25 499.63,349.85 502.2,350 C504.77,350.15 507.6,350.4 509.9,350 C512.2,349.6 513.83,348.37 516,347.6 C518.17,346.83 520.87,345.45 522.9,345.4 C524.93,345.35 526.28,345.83 528.2,347.3 C530.12,348.77 532.6,352.42 534.4,354.2 C536.2,355.98 536.97,356.73 539,358 C541.03,359.27 543.8,360.9 546.6,361.8 C549.4,362.7 552.22,362.88 555.8,363.4 C559.38,363.92 566.05,364.65 568.1,364.9" fill="none" stroke="#9c6dcf" stroke-width="1.8" stroke-linejoin="round" stroke-linecap="round" />
<path d="M412,346 C416.67,347.27 430.33,351.22 440,353.6 C449.67,355.98 463.47,358.93 470,360.3 C476.53,361.67 476.13,361.42 479.2,361.8 C482.27,362.18 485.85,362.85 488.4,362.6 C490.95,362.35 492.2,361.32 494.5,360.3 C496.8,359.28 500.15,357.02 502.2,356.5 C504.25,355.98 505.27,356.43 506.8,357.2 C508.33,357.97 509.87,359.43 511.4,361.1 C512.93,362.77 514.22,365.62 516,367.2 C517.78,368.78 519.55,369.58 522.1,370.6 C524.65,371.62 528.23,372.65 531.3,373.3 C534.37,373.95 537.57,374.03 540.5,374.5 C543.43,374.97 547.5,375.83 548.9,376.1" fill="none" stroke="#9c6dcf" stroke-width="1.8" stroke-linejoin="round" stroke-linecap="round" />
<path d="M510.8,368 C513.9,369.17 521.2,372.42 529.4,375 C537.6,377.58 553.23,381.6 560,383.5 C566.77,385.4 566.15,385.63 570,386.4 C573.85,387.17 579.6,387.67 583.1,388.1 C586.6,388.53 588.8,389 591,389 C593.2,389 594.55,388.17 596.3,388.1 C598.05,388.03 600.05,388.3 601.5,388.6 C602.95,388.9 603.68,389.4 605,389.9 C606.32,390.4 607.65,390.87 609.4,391.6 C611.15,392.33 613.32,393.63 615.5,394.3 C617.68,394.97 620.08,395.32 622.5,395.6 C624.92,395.88 625.93,395.73 630,396 C634.07,396.27 644.08,397 646.9,397.2" fill="none" stroke="#4da5e2" stroke-width="1.75" stroke-linejoin="round" stroke-linecap="round" />
<path d="M491.2,373 C491.97,373.33 491.13,373.45 495.8,375 C500.47,376.55 510.43,379.62 519.2,382.3 C527.97,384.98 539.63,388.85 548.4,391.1 C557.17,393.35 566.73,394.98 571.8,395.8 C576.87,396.62 576.92,395.88 578.8,396 C580.68,396.12 581.65,396.2 583.1,396.5 C584.55,396.8 585.3,397.08 587.5,397.8 C589.7,398.52 593.38,399.93 596.3,400.8 C599.22,401.67 602.08,402.42 605,403 C607.92,403.58 610.12,403.73 613.8,404.3 C617.48,404.87 624.88,406.05 627.1,406.4" fill="none" stroke="#4da5e2" stroke-width="1.75" stroke-linejoin="round" stroke-linecap="round" />
<path d="M471.5,383.6 C474.58,384.72 482.05,387.6 490,390.3 C497.95,393 509.47,396.52 519.2,399.8 C528.93,403.08 542.07,408.25 548.4,410 C554.73,411.75 554.77,410.05 557.2,410.3 C559.63,410.55 560.82,410.82 563,411.5 C565.18,412.18 565.8,412.93 570.3,414.4 C574.8,415.87 583.82,418.48 590,420.3 C596.18,422.12 604.5,424.47 607.4,425.3" fill="none" stroke="#4da5e2" stroke-width="1.75" stroke-linejoin="round" stroke-linecap="round" />
<path d="M451.8,391 C455.67,392.47 467.23,396.9 475,399.8 C482.77,402.7 491.73,405.88 498.4,408.4 C505.07,410.92 509.32,412.87 515,414.9 C520.68,416.93 528.7,419.5 532.5,420.6 C536.3,421.7 536.2,421.43 537.8,421.5 C539.4,421.57 540.07,420.5 542.1,421 C544.13,421.5 546.48,423.03 550,424.5 C553.52,425.97 559.03,428.33 563.2,429.8 C567.37,431.27 570.9,431.97 575,433.3 C579.1,434.63 585.67,437.05 587.8,437.8" fill="none" stroke="#4da5e2" stroke-width="1.75" stroke-linejoin="round" stroke-linecap="round" />
<path d="M432,396.3 C435.58,397.7 446.32,401.97 453.5,404.7 C460.68,407.43 468.02,410.08 475.1,412.7 C482.18,415.32 489.13,417.92 496,420.4 C502.87,422.88 511.95,426.22 516.3,427.6 C520.65,428.98 519.18,427.85 522.1,428.7 C525.02,429.55 529.15,431.12 533.8,432.7 C538.45,434.28 544.33,436.35 550,438.2 C555.67,440.05 564.83,442.87 567.8,443.8" fill="none" stroke="#4da5e2" stroke-width="1.75" stroke-linejoin="round" stroke-linecap="round" />
<path d="M412.2,400.5 C415.5,401.92 425.42,406.18 432,409 C438.58,411.82 444.53,414.5 451.7,417.4 C458.87,420.3 467.22,423.48 475,426.4 C482.78,429.32 490.57,432.2 498.4,434.9 C506.23,437.6 513.62,439.95 522,442.6 C530.38,445.25 544.25,449.43 548.7,450.8" fill="none" stroke="#4da5e2" stroke-width="1.75" stroke-linejoin="round" stroke-linecap="round" />
<text x="0" y="0" font-size="13.7" text-anchor="start" fill="#a57fd6" transform="translate(433.2,327.2) rotate(-33.3)" >CoPc/CNT(III)</text>
<text x="0" y="0" font-size="13.3" text-anchor="start" fill="#4da5e2" transform="translate(412,398.8) rotate(-18.2)" >CoPc/CNT(I)</text>
<text x="570.4" y="290.1" font-size="13.2" text-anchor="start" fill="#000" ><tspan font-size="11.8" dy="-0.5">*</tspan><tspan dy="0.5">CO</tspan></text>
<text x="609.4" y="287" font-size="13.0" text-anchor="start" fill="#000" >H<tspan font-size="8.8" dy="3">2</tspan><tspan dy="-3">O</tspan></text>
<text x="604.5" y="382.6" font-size="13.0" text-anchor="start" fill="#000" >H<tspan font-size="8.8" dy="3">2</tspan><tspan dy="-3">O</tspan></text>
</svg></body></html>
